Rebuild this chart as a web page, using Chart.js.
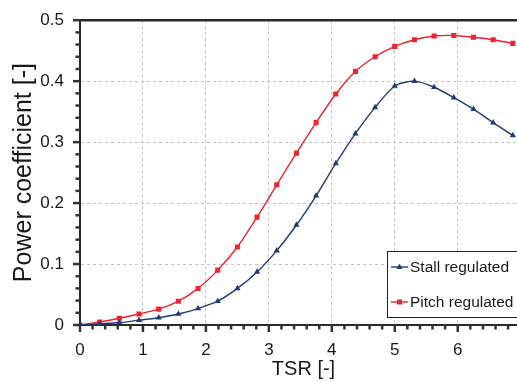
<!DOCTYPE html>
<html>
<head>
<meta charset="utf-8">
<script src="https://cdn.jsdelivr.net/npm/chart.js@4/dist/chart.umd.min.js"></script>
<style>
  html, body { margin: 0; padding: 0; background: #fff; overflow: hidden; width: 517px; height: 382px; }
  #wrap { position: relative; width: 536px; height: 382px; }
  #legend {
    position: absolute; left: 387px; top: 251px; width: 140px; height: 67px;
    border: 1px solid #222; background: #fff; box-sizing: border-box;
    font-family: "Liberation Sans", Arial, sans-serif; font-size: 15.5px; color: #1a1a1a;
  }
  .row { position: absolute; left: 3px; height: 18px; display: flex; align-items: center; white-space: nowrap; }
  .row canvas { margin-right: 2px; }
</style>
</head>
<body>
<div id="wrap">
  <canvas id="c" width="536" height="382"></canvas>
  <div id="legend">
    <div class="row" style="top:6px"><canvas id="s1" width="17" height="10"></canvas><span>Stall regulated</span></div>
    <div class="row" style="top:41px"><canvas id="s2" width="17" height="10"></canvas><span>Pitch regulated</span></div>
  </div>
</div>
<script>
// ---- data ----
const tsr = [0, 0.3125, 0.625, 0.9375, 1.25, 1.5625, 1.875, 2.1875, 2.5, 2.8125, 3.125, 3.4375, 3.75, 4.0625, 4.375, 4.6875, 5, 5.3125, 5.625, 5.9375, 6.25, 6.5625, 6.875];
const stallRegulated = [0, 0.002, 0.004, 0.008, 0.012, 0.018, 0.027, 0.039, 0.060, 0.087, 0.122, 0.164, 0.212, 0.265, 0.314, 0.357, 0.392, 0.400, 0.390, 0.373, 0.354, 0.332, 0.311];
const pitchRegulated = [0, 0.005, 0.011, 0.018, 0.026, 0.039, 0.060, 0.090, 0.128, 0.177, 0.230, 0.282, 0.332, 0.379, 0.416, 0.440, 0.457, 0.468, 0.474, 0.475, 0.472, 0.468, 0.462];
const seriesNames = ["Stall regulated", "Pitch regulated"];
const xTickLabels = ["0", "1", "2", "3", "4", "5", "6"];
const yTickLabels = ["0", "0.1", "0.2", "0.3", "0.4", "0.5"];

const BLUE = '#1f3b7a';
const RED = '#f0222c';
const FONT = '"Liberation Sans", Arial, sans-serif';
const TEXT = '#1a1a1a';
const AXIS = '#2a2a2a';

function isMult(v, step) { const r = v / step; return Math.abs(r - Math.round(r)) < 1e-6; }

const frame = {
  id: 'frame',
  afterDraw(chart) {
    const {ctx, chartArea} = chart;
    ctx.save();
    ctx.setLineDash([]);
    ctx.strokeStyle = AXIS;
    ctx.lineWidth = 2.5;
    ctx.beginPath();
    ctx.moveTo(chartArea.left - 1, chartArea.top);
    ctx.lineTo(chartArea.right, chartArea.top);
    ctx.stroke();
    // tick marks (major long, minor short), outside the axes
    ctx.strokeStyle = '#333333';
    ctx.lineWidth = 2.5;
    const xs = chart.scales.x, ys = chart.scales.y;
    for (const t of xs.ticks) {
      const px = xs.getPixelForValue(t.value);
      const len = isMult(t.value, 1) ? 7 : 4.5;
      ctx.beginPath(); ctx.moveTo(px, chartArea.bottom); ctx.lineTo(px, chartArea.bottom + len); ctx.stroke();
    }
    for (const t of ys.ticks) {
      const py = ys.getPixelForValue(t.value);
      const len = isMult(t.value, 0.1) ? 7 : 4.5;
      ctx.beginPath(); ctx.moveTo(chartArea.left, py); ctx.lineTo(chartArea.left - len, py); ctx.stroke();
    }
    ctx.restore();
  }
};

new Chart(document.getElementById('c'), {
  type: 'line',
  data: {
    datasets: [
      {
        label: seriesNames[0],
        data: tsr.map((x, i) => ({x, y: stallRegulated[i]})),
        borderColor: BLUE, backgroundColor: BLUE, borderWidth: 1.4,
        pointStyle: 'triangle', pointRadius: 3.6, pointBorderWidth: 0,
        tension: 0.25
      },
      {
        label: seriesNames[1],
        data: tsr.map((x, i) => ({x, y: pitchRegulated[i]})),
        borderColor: RED, backgroundColor: RED, borderWidth: 1.4,
        pointStyle: 'rect', pointRadius: 3.6, pointBorderWidth: 0,
        tension: 0.25
      }
    ]
  },
  options: {
    responsive: false,
    animation: false,
    layout: { padding: { top: 20, left: 0, right: 0, bottom: 0 } },
    plugins: { legend: { display: false }, tooltip: { enabled: false } },
    scales: {
      x: {
        type: 'linear', min: 0, max: 7.1,
        afterFit(s) { s.height = 57; },
        border: { color: AXIS, width: 2, dash: [3, 3] },
        grid: {
          color: c => (c.tick && c.tick.value > 0 && isMult(c.tick.value, 1)) ? '#c4c4c4' : 'rgba(0,0,0,0)',
          tickColor: 'rgba(0,0,0,0)', tickLength: 6, lineWidth: 1
        },
        ticks: {
          stepSize: 0.2, autoSkip: false, maxRotation: 0, padding: 9,
          color: TEXT, font: { family: FONT, size: 17 },
          callback: v => (isMult(v, 1) && xTickLabels[Math.round(v)] !== undefined) ? xTickLabels[Math.round(v)] : ''
        },
        title: { display: true, text: 'TSR [-]', color: TEXT, font: { family: FONT, size: 20 }, padding: { top: 0, bottom: 1 } }
      },
      y: {
        type: 'linear', min: 0, max: 0.5,
        afterFit(s) { s.width = 80; },
        border: { color: AXIS, width: 2, dash: [3, 3] },
        grid: {
          color: c => (c.tick && c.tick.value > 0 && c.tick.value < 0.5 && isMult(c.tick.value, 0.1)) ? '#c4c4c4' : 'rgba(0,0,0,0)',
          tickColor: 'rgba(0,0,0,0)', tickLength: 6, lineWidth: 1
        },
        ticks: {
          stepSize: 0.02, autoSkip: false, padding: 10,
          color: TEXT, font: { family: FONT, size: 17 },
          callback: v => isMult(v, 0.1) ? yTickLabels[Math.round(v * 10)] : ''
        },
        title: { display: true, text: 'Power coefficient [-]', color: TEXT, font: { family: FONT, size: 25 }, padding: { top: 9, bottom: 0 } }
      }
    }
  },
  plugins: [frame]
});

function drawSymbol(id, color, shape) {
  const c = document.getElementById(id).getContext('2d');
  c.strokeStyle = color; c.fillStyle = color; c.lineWidth = 1.4;
  c.beginPath(); c.moveTo(0, 5); c.lineTo(17, 5); c.stroke();
  c.beginPath();
  if (shape === 'rect') { c.rect(6, 2.5, 5, 5); }
  else { c.moveTo(8.5, 1.5); c.lineTo(11.5, 7); c.lineTo(5.5, 7); c.closePath(); }
  c.fill();
}
drawSymbol('s1', BLUE, 'tri');
drawSymbol('s2', RED, 'rect');
</script>
</body>
</html>
